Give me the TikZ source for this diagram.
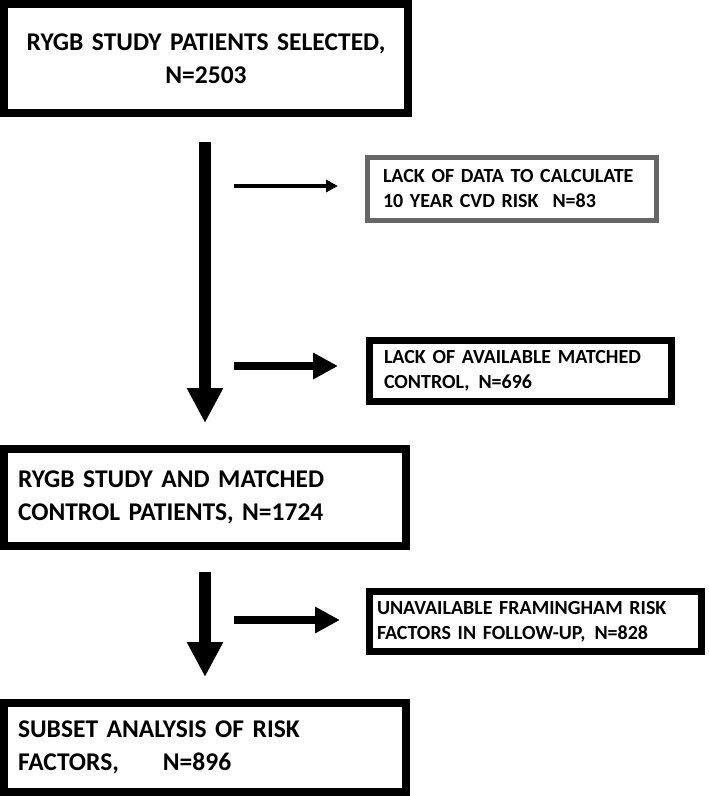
\documentclass[tikz,border=0pt]{standalone}
\usepackage{fontspec}
\setmainfont{Carlito}
\usetikzlibrary{arrows.meta}
\definecolor{boxgray}{RGB}{102,102,102}

\tikzset{
  bigbox/.style={draw,line width=8pt,font=\fontsize{25.5}{33}\selectfont\bfseries,
    minimum width=402pt,inner xsep=14pt,text width=374pt,align=left},
  sidebox/.style={draw,line width=7pt,font=\fontsize{20}{25}\selectfont\bfseries,align=left},
  bigarrow/.style={line width=12pt,-{Triangle[width=34pt,length=35pt]}},
  sidearrow/.style={line width=8.5pt,-{Triangle[width=25pt,length=25pt]}}
}

\begin{document}
\begin{tikzpicture}[x=1pt,y=-1pt]
\useasboundingbox (0,0) rectangle (709,796);

% main column
\node[bigbox,minimum width=404pt,minimum height=109pt,text width=376pt,align=center](selected) at (206,58.5)
	{RYGB STUDY PATIENTS SELECTED,\\ N=2503};
\node[bigbox,minimum height=97pt](matched) at (205,497.5)
	{RYGB STUDY AND MATCHED\\CONTROL PATIENTS, N=1724};
\node[bigbox,minimum height=89pt](subset) at (205,747.5)
	{SUBSET ANALYSIS OF RISK\\FACTORS,\hspace{44pt}N=896};

% exclusions
\node[sidebox,draw=boxgray,line width=5pt,minimum width=289pt,minimum height=63pt,
	inner xsep=15.5pt,text width=258pt](nodata) at (512,189)
	{LACK OF DATA TO CALCULATE\\10 YEAR CVD RISK\hspace{14pt}N=83};
\node[sidebox,minimum width=302pt,minimum height=61pt,inner xsep=14.5pt,text width=273pt](nocontrol) at (520.5,371)
	{LACK OF AVAILABLE MATCHED\\CONTROL,\hspace{9pt}N=696};
\node[sidebox,minimum width=332pt,minimum height=60pt,inner xsep=7.5pt,text width=317pt](nofactors) at (535.5,621.5)
	{UNAVAILABLE FRAMINGHAM RISK\\FACTORS IN FOLLOW-UP,\hspace{9pt}N=828};

% arrow ends
\coordinate (d1) at (205,142);
\coordinate (d2) at (205,423);
\coordinate (d3) at (205,572);
\coordinate (d4) at (205,677);
\foreach \n/\y/\x in {r1/186/338,r2/366/338,r3/620/340}{
	\coordinate (\n s) at (234,\y);
	\coordinate (\n e) at (\x,\y);
}

\foreach \x/\y in {d1/d2,d3/d4}
	\draw[bigarrow](\x)--(\y);
\draw[line width=4pt,-{Triangle[width=12pt,length=12pt]}](r1s)--(r1e);
\foreach \x in {r2,r3}
	\draw[sidearrow](\x s)--(\x e);

\end{tikzpicture}
\end{document}
